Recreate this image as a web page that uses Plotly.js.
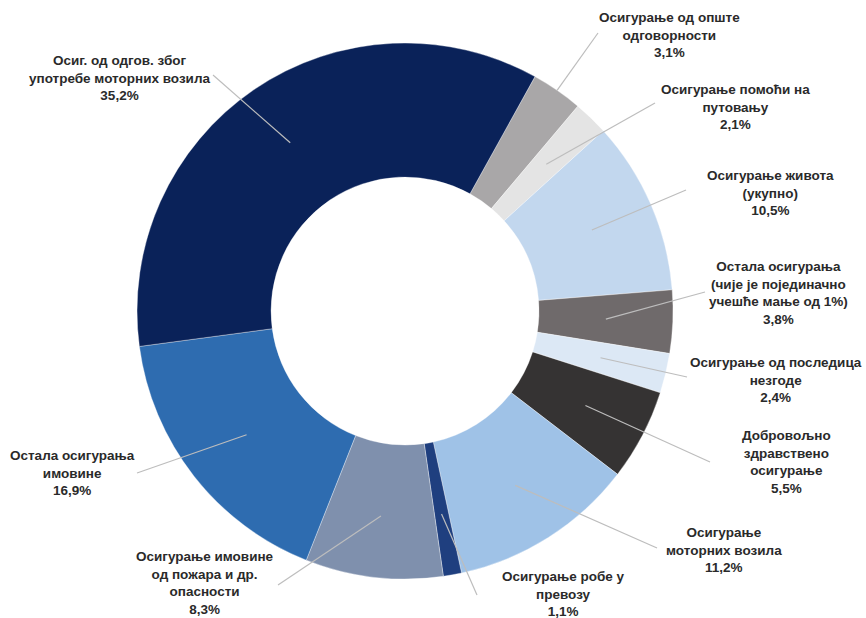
<!DOCTYPE html>
<html>
<head>
<meta charset="utf-8">
<script src="https://cdn.plot.ly/plotly-3.0.1.min.js"></script>
<style>html,body{margin:0;padding:0;background:#fff;}#chart{width:866px;height:618px;}</style>
</head>
<body>
<div id="chart"></div>
<script>
// ---- data ----
const categories = [
  'Осигурање од опште<br>одговорности',
  'Осигурање помоћи на<br>путовању',
  'Осигурање живота<br>(укупно)',
  'Остала осигурања<br>(чије је појединачно<br>учешће мање од 1%)',
  'Осигурање од последица<br>незгоде',
  'Добровољно<br>здравствено<br>осигурање',
  'Осигурање<br>моторних возила',
  'Осигурање робе у<br>превозу',
  'Осигурање имовине<br>од пожара и др.<br>опасности',
  'Остала осигурања<br>имовине',
  'Осиг. од одгов. због<br>употребе моторних возила'
];
const shares = [3.1, 2.1, 10.5, 3.8, 2.4, 5.5, 11.2, 1.1, 8.3, 16.9, 35.2];
const shareLabels = ['3,1%', '2,1%', '10,5%', '3,8%', '2,4%', '5,5%', '11,2%', '1,1%', '8,3%', '16,9%', '35,2%'];

// ---- styles / layout ----
const colors = ['#a9a7a8', '#e4e4e4', '#c2d7ee', '#6f6a6b', '#dce8f5', '#353333',
                '#9fc2e7', '#1f3f7f', '#7f90ad', '#2e6cb0', '#0a2259'];
const W = 866, H = 618;
const cx = 405, cy = 311;
const domX = [0.1577, 0.7777], domY = [0.0631, 0.9304];
const R = Math.min(W * (domX[1] - domX[0]), H * (domY[1] - domY[0])) / 2;
const rotation = 29;
// label text centres (px) and leader-line outer ends (px)
const labelPos = [[669, 35], [735, 107], [770, 193], [778, 293], [776, 380], [786, 462],
                  [724, 550], [563, 594], [205, 583], [72, 473], [120, 78]];
const lineEnd = [[598, 33], [655, 103], [686, 190], [705, 292], [687, 377], [710, 462],
                 [657, 548], [477, 595], [278, 585], [137, 473], [213, 75]];
const anchorR = [1.0, 0.76, 0.76, 0.75, 0.75, 0.76, 0.77, 0.77, 0.77, 0.75, 0.76];

const px2x = p => p / W;
const py2y = p => 1 - p / H;

const total = shares.reduce((a, b) => a + b, 0);
let cum = 0;
const shapes = [];
const annotations = [];
shares.forEach((v, i) => {
  const mid = (rotation + (cum + v / 2) / total * 360) * Math.PI / 180;
  cum += v;
  const r = R * anchorR[i];
  const ax = cx + r * Math.sin(mid), ay = cy - r * Math.cos(mid);
  shapes.push({
    type: 'line', xref: 'paper', yref: 'paper', layer: 'above',
    x0: px2x(ax), y0: py2y(ay), x1: px2x(lineEnd[i][0]), y1: py2y(lineEnd[i][1]),
    line: {color: '#bdbdbd', width: 1.2}
  });
  annotations.push({
    xref: 'paper', yref: 'paper', x: px2x(labelPos[i][0]), y: py2y(labelPos[i][1]),
    xanchor: 'center', yanchor: 'middle', align: 'center', showarrow: false,
    text: categories[i] + '<br>' + shareLabels[i],
    font: {family: 'Liberation Sans, Arial, sans-serif',
           size: 13.5, weight: 'bold', color: '#2a2a2a'}
  });
});

const trace = {
  type: 'pie',
  labels: categories,
  values: shares,
  sort: false,
  direction: 'clockwise',
  rotation: rotation,
  hole: 0.5,
  textinfo: 'none',
  hoverinfo: 'label+percent',
  domain: {x: domX, y: domY},
  marker: {colors: colors, line: {color: 'rgba(255,255,255,0.35)', width: 1}},
  showlegend: false
};

const layout = {
  width: W, height: H,
  margin: {l: 0, r: 0, t: 0, b: 0},
  paper_bgcolor: '#ffffff',
  showlegend: false,
  shapes: shapes,
  annotations: annotations
};

Plotly.newPlot('chart', [trace], layout, {displayModeBar: false, staticPlot: true});
</script>
</body>
</html>
